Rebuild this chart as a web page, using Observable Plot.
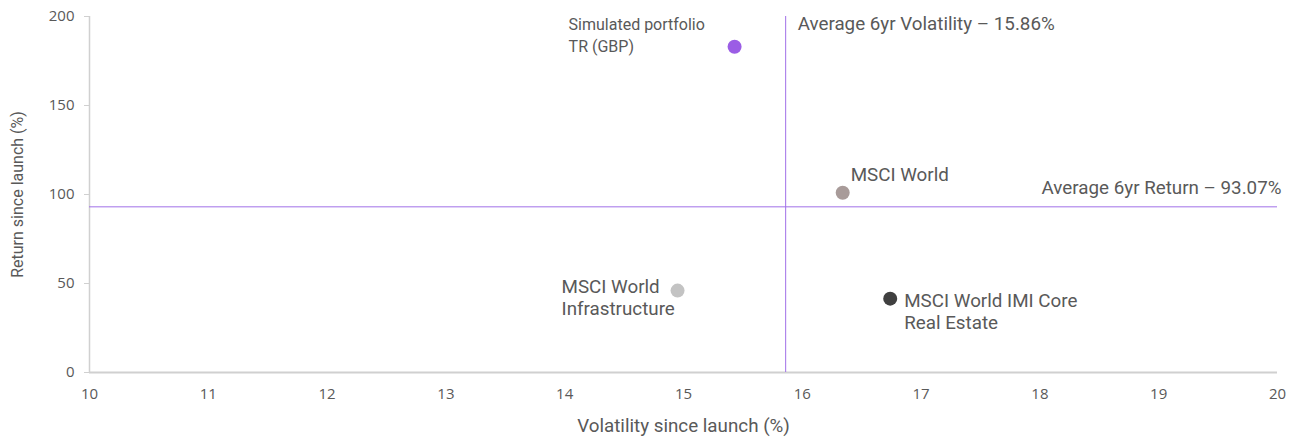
<!DOCTYPE html>
<html>
<head>
<meta charset="utf-8">
<script src="https://cdn.jsdelivr.net/npm/d3@7"></script>
<script src="https://cdn.jsdelivr.net/npm/@observablehq/plot@0.6"></script>
<style>
  html, body { margin: 0; padding: 0; background: #fff; }
  #chart svg { display: block; }
</style>
</head>
<body>
<div id="chart"></div>
<script>
// ---- data ----
const names = ["Simulated portfolio\nTR (GBP)", "MSCI World", "MSCI World\nInfrastructure", "MSCI World IMI Core\nReal Estate"];
const volatility = [15.43, 16.34, 14.95, 16.74];
const returns = [183, 101, 46, 41.5];
const colors = ["#9b5de5", "#a89b99", "#c3c3c3", "#404040"];
const avgVolatility = 15.86;
const avgReturn = 93.07;
const avgVolatilityLabel = "Average 6yr Volatility – 15.86%";
const avgReturnLabel = "Average 6yr Return – 93.07%";
const xTicks = [10, 11, 12, 13, 14, 15, 16, 17, 18, 19, 20];
const yTicks = [0, 50, 100, 150, 200];
const xLabel = "Volatility since launch (%)";
const yLabel = "Return since launch (%)";

const data = names.map((n, i) => ({name: n, vol: volatility[i], ret: returns[i], color: colors[i]}));

const textColor = "#595959";
const lineColor = "#a070e8";
const axisColor = "#d0d0d0";
const annSize = 18.8;

function labelFor(i, opts) {
  return Plot.text([data[i]], Object.assign({
    x: "vol", y: "ret", text: "name", textAnchor: "start", lineAnchor: "middle",
    fill: textColor, fontSize: annSize, lineHeight: 1.19, fontFamily: "Roboto"
  }, opts));
}

const chart = Plot.plot({
  width: 1293,
  height: 439,
  marginLeft: 89,
  marginRight: 16,
  marginTop: 16,
  marginBottom: 67,
  x: {domain: [10, 20]},
  y: {domain: [0, 200]},
  style: {fontFamily: "Roboto", color: textColor, background: "#fff"},
  marks: [
    Plot.axisX({ticks: xTicks, tickSize: 0, tickPadding: 16, fontSize: 15, fontFamily: "Open Sans", label: null, fill: textColor}),
    Plot.axisY({ticks: yTicks, tickSize: 5, tickPadding: 10, fontSize: 15, fontFamily: "Open Sans", label: null, stroke: axisColor, fill: textColor}),
    Plot.ruleY([0], {x1: 10, x2: 20, stroke: axisColor, strokeWidth: 2}),
    Plot.ruleX([10], {y1: 0, y2: 200, stroke: axisColor, strokeWidth: 1.5}),
    Plot.ruleX([avgVolatility], {y1: 0, y2: 200, stroke: lineColor, strokeWidth: 1}),
    Plot.ruleY([avgReturn], {stroke: lineColor, strokeWidth: 1}),
    Plot.dot(data, {x: "vol", y: "ret", r: 7, fill: "color", stroke: "none"}),
    labelFor(0, {dx: -166, dy: -13, fontSize: 16, lineHeight: 1.375}),
    labelFor(1, {dx: 8, dy: -19}),
    labelFor(2, {dx: -116, dy: 6}),
    labelFor(3, {dx: 14, dy: 12}),
    Plot.text([avgVolatilityLabel], {x: avgVolatility, y: 200, textAnchor: "start", lineAnchor: "middle", dx: 12, dy: 7, fill: textColor, fontSize: annSize, fontFamily: "Roboto"}),
    Plot.text([avgReturnLabel], {x: 20, y: avgReturn, textAnchor: "end", lineAnchor: "middle", dx: 4, dy: -19, fill: textColor, fontSize: annSize, fontFamily: "Roboto"}),
    Plot.text([xLabel], {frameAnchor: "bottom", textAnchor: "middle", lineAnchor: "middle", dy: 53, fill: textColor, fontSize: annSize, fontFamily: "Roboto"}),
    Plot.text([yLabel], {frameAnchor: "left", textAnchor: "middle", lineAnchor: "middle", dx: -72, rotate: -90, fill: textColor, fontSize: 16, fontFamily: "Roboto"})
  ]
});
document.getElementById("chart").append(chart);
</script>
</body>
</html>
